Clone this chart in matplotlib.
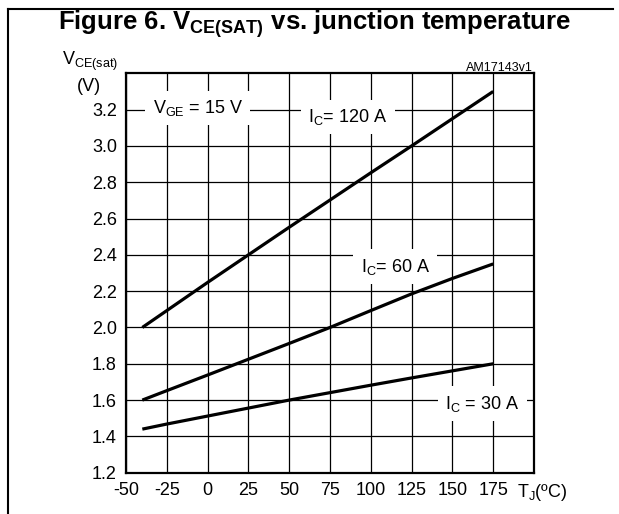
import numpy as np
import matplotlib
matplotlib.use("Agg")
import matplotlib.pyplot as plt
from matplotlib.lines import Line2D

plt.rcParams['font.family'] = ['Liberation Sans', 'DejaVu Sans']
plt.rcParams['mathtext.fontset'] = 'custom'
plt.rcParams['mathtext.rm'] = 'Liberation Sans'
plt.rcParams['mathtext.it'] = 'Liberation Sans'
plt.rcParams['mathtext.bf'] = 'Liberation Sans:bold'

# junction temperature (degC) and Vce(sat) (V)
tj = [-40, -25, 0, 25, 50, 75, 100, 125, 150, 175]
vce_120a = [2.0, 2.093, 2.248, 2.4, 2.552, 2.702, 2.852, 3.0, 3.15, 3.3]
vce_60a = [1.6, 1.652, 1.738, 1.825, 1.912, 2.0, 2.093, 2.185, 2.27, 2.35]
vce_30a = [1.44, 1.468, 1.512, 1.556, 1.6, 1.641, 1.682, 1.722, 1.761, 1.8]

xticks = [-50, -25, 0, 25, 50, 75, 100, 125, 150, 175]
yticks = [1.2, 1.4, 1.6, 1.8, 2.0, 2.2, 2.4, 2.6, 2.8, 3.0, 3.2]

W, H = 619, 514
fig = plt.figure(figsize=(W / 100, H / 100), dpi=100)
ax = fig.add_axes([126 / W, 1 - 472.7 / H, (534 - 126) / W, (472.7 - 73.3) / H])

# curves drawn above the label boxes so the white boxes never cut them
for v in [vce_120a, vce_60a, vce_30a]:
    ax.plot(tj, v, color='black', lw=2.3, solid_capstyle='butt', zorder=5)

ax.set_xlim(-50, 200)
ax.set_ylim(1.2, 3.4)
ax.set_xticks(xticks)
ax.set_xticklabels([str(t) for t in xticks])
ax.set_yticks(yticks)
ax.set_yticklabels(['%.1f' % y for y in yticks])
ax.tick_params(length=0, labelsize=13, pad=6.5)
ax.grid(True, color='black', lw=0.9)
ax.set_axisbelow(True)
for s in ax.spines.values():
    s.set_linewidth(1.6)

box = dict(facecolor='white', edgecolor='none', boxstyle='square,pad=0.4')
ax.text(-6, 3.21, r'V$_{\mathrm{GE}}$ = 15 V', fontsize=13, ha='center', va='center', bbox=box, zorder=4)
ax.text(86, 3.16, r'I$_{\mathrm{C}}$= 120 A', fontsize=13, ha='center', va='center', bbox=box, zorder=4)
ax.text(115, 2.335, r'I$_{\mathrm{C}}$= 60 A', fontsize=13, ha='center', va='center', bbox=box, zorder=4)
ax.text(168.5, 1.58, r'I$_{\mathrm{C}}$ = 30 A', fontsize=13, ha='center', va='center', bbox=box, zorder=4)

ax.annotate(r'T$_{\mathrm{J}}$(ºC)', xy=(189.5, 0), xycoords=('data', 'axes fraction'),
            xytext=(0, -6.5), textcoords='offset points', ha='left', va='top', fontsize=13)

fig.text(90 / W, 1 - 65 / H, r'V$_{\mathrm{CE(sat)}}$', fontsize=13, ha='center', va='baseline')
fig.text(89 / W, 1 - 86.5 / H, '(V)', fontsize=13, ha='center', va='center')
fig.text(533 / W, 1 - 70.7 / H, 'AM17143v1', fontsize=9, ha='right', va='baseline')

fig.text(315 / W, 1 - 30 / H, r'Figure 6. V$_{\mathbf{CE(SAT)}}$ vs. junction temperature',
         fontsize=18.5, fontweight='bold', ha='center', va='baseline')

# frame lines (left and top only)
fig.add_artist(Line2D([8 / W, 8 / W], [0, 1 - 9.3 / H], color='black', lw=1.5, transform=fig.transFigure))
fig.add_artist(Line2D([8 / W, 613 / W], [1 - 9.3 / H, 1 - 9.3 / H], color='black', lw=1.5, transform=fig.transFigure))

fig.savefig('out.png', dpi=100)
